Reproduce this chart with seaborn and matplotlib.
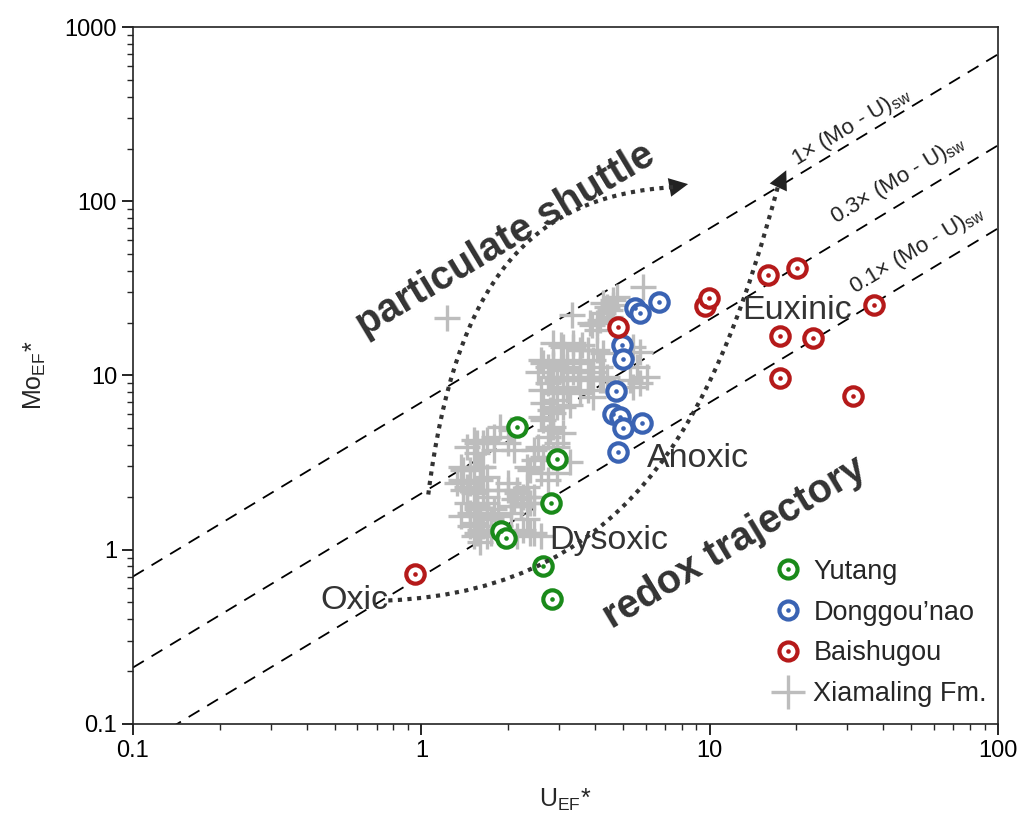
import matplotlib
matplotlib.use("Agg")
import matplotlib.pyplot as plt
from matplotlib.lines import Line2D
from matplotlib.path import Path
from matplotlib.patches import PathPatch
import numpy as np
import seaborn as sns

# Yutang
yutang_u = [2.15, 2.96, 2.82, 1.89, 1.96, 2.65, 2.85]
yutang_mo = [5.08, 3.33, 1.84, 1.28, 1.17, 0.80, 0.52]
# Donggou'nao
dong_u = [5.52, 5.75, 6.69, 4.98, 5.02, 4.75, 4.63, 4.90, 5.02, 5.84, 4.79]
dong_mo = [24.5, 22.9, 26.5, 15.0, 12.5, 8.17, 6.03, 5.80, 5.01, 5.35, 3.65]
# Baishugou
bai_u = [0.95, 4.82, 9.66, 9.97, 15.9, 20.1, 17.5, 22.9, 17.5, 37.0, 31.5]
bai_mo = [0.72, 19.0, 25.2, 27.9, 37.8, 41.5, 16.9, 16.5, 9.7, 25.4, 7.65]
# Xiamaling Fm.
xia_u = [5.89, 4.78, 4.63, 4.28, 4.52, 3.34, 1.23, 4.08, 3.92, 3.04, 3.37, 3.62,
         3.77, 5.44, 5.75, 2.65, 2.87, 3.21, 3.56, 3.95, 4.18, 2.53, 2.80, 3.11,
         3.48, 3.86, 4.28, 6.08, 5.75, 5.44, 2.59, 2.87, 3.21, 3.56, 3.95, 2.65,
         2.96, 3.29, 1.88, 2.04, 2.65, 2.87, 3.11, 2.74, 2.96, 1.44, 1.56, 1.69,
         1.78, 2.09, 1.99, 2.45, 2.65, 2.87, 3.29, 1.37, 1.48, 1.60, 1.69, 2.39,
         2.59, 2.74, 1.33, 1.44, 1.56, 1.69, 1.84, 1.99, 2.15, 2.33, 2.45, 1.44,
         1.56, 1.69, 1.84, 2.04, 2.21, 1.48, 1.60, 1.74, 2.15, 2.39, 2.59, 1.37,
         1.52, 1.88, 2.33,
         4.63, 4.42, 4.28, 4.18, 4.52, 3.86, 4.08, 2.87, 3.11, 3.37, 3.56, 4.08,
         4.28, 2.59, 2.74, 2.87, 3.04, 3.21, 3.37, 3.56, 3.77, 3.95, 4.18, 4.42,
         2.74, 2.96, 3.21, 3.77, 5.61, 5.31, 2.87, 3.11, 2.80, 2.59, 2.87, 2.80,
         2.53, 2.96, 1.52, 1.64, 1.78, 1.56, 1.40, 1.52, 1.64, 2.45, 2.33, 2.96,
         1.37, 1.48, 1.60, 1.40, 1.52, 1.64, 1.99, 2.15, 2.33, 2.09, 2.26, 2.45,
         2.04, 2.21, 2.39, 1.56, 1.69, 1.78, 1.48, 1.60, 1.74, 1.52, 1.64, 1.56,
         1.69, 1.60, 2.26, 2.45]
xia_mo = [32.3, 28.3, 25.4, 26.1, 23.8, 22.3, 21.4, 20.1, 19.5, 15.0, 14.6, 15.0,
          14.0, 14.6, 13.7, 11.8, 11.5, 12.3, 11.8, 12.3, 11.2, 10.4, 9.83, 9.83,
          9.45, 9.83, 9.45, 9.83, 9.08, 8.61, 8.28, 7.96, 8.28, 7.96, 7.55, 6.97,
          6.61, 6.79, 5.08, 4.88, 5.57, 5.08, 4.69, 4.45, 4.11, 3.90, 4.11, 4.28,
          3.75, 3.75, 4.11, 3.75, 3.42, 3.42, 3.20, 2.99, 2.88, 2.99, 2.62, 2.88,
          2.77, 2.52, 2.42, 2.30, 2.21, 2.01, 2.21, 2.21, 2.12, 2.01, 1.86, 1.86,
          1.70, 1.63, 1.55, 1.63, 1.77, 1.36, 1.30, 1.25, 1.19, 1.25, 1.19, 1.55,
          1.19, 1.36, 1.49,
          27.2, 24.8, 22.9, 20.9, 21.7, 20.1, 18.3, 15.4, 14.6, 15.4, 14.0, 14.0,
          13.5, 12.3, 11.2, 11.8, 10.8, 11.2, 10.4, 10.8, 9.83, 10.4, 9.45, 9.83,
          9.08, 9.45, 8.61, 8.28, 11.2, 9.45, 7.25, 6.61, 6.36, 5.80, 6.11, 4.88,
          3.90, 3.90, 4.28, 4.11, 4.45, 3.60, 2.88, 2.99, 2.99, 3.28, 2.99, 2.77,
          2.52, 2.42, 2.52, 2.21, 2.12, 2.21, 2.42, 2.21, 2.30, 1.94, 2.01, 2.01,
          1.77, 1.77, 1.86, 1.77, 1.86, 1.70, 1.63, 1.55, 1.49, 1.43, 1.36, 1.25,
          1.19, 1.10, 1.30, 1.25]

sw_ratio = 7.0
line_factors = [1, 0.3, 0.1]
line_labels = ["1×", "0.3×", "0.1×"]

green = "#1a8a1a"
blue = "#3a63b3"
red = "#b51a1a"
gray = "#bdbdbd"
txt = "#333333"

sns.set_style("ticks")
plt.rcParams["font.family"] = ["Liberation Sans", "DejaVu Sans"]
plt.rcParams["mathtext.fontset"] = "custom"
plt.rcParams["mathtext.rm"] = "Liberation Sans"

fig = plt.figure(figsize=(10.23, 8.27), dpi=100)
ax = fig.add_axes([0.130, 0.125, 0.8456, 0.842])
ax.set_xscale("log")
ax.set_yscale("log")
ax.set_xlim(0.1, 100)
ax.set_ylim(0.1, 1000)

# reference lines
xl = np.array([0.1, 100])
for f in line_factors:
    ax.plot(xl, f * sw_ratio * xl, color="black", lw=1.3, dashes=(7, 5), zorder=1)

sns.scatterplot(x=xia_u, y=xia_mo, ax=ax, marker="+", s=330, color=gray,
                linewidth=2.4, zorder=2)
for xs, ys, c in [(yutang_u, yutang_mo, green), (dong_u, dong_mo, blue),
                  (bai_u, bai_mo, red)]:
    sns.scatterplot(x=xs, y=ys, ax=ax, marker="o", s=175, color="white",
                    edgecolor=c, linewidth=3.0, zorder=3)
    sns.scatterplot(x=xs, y=ys, ax=ax, marker="o", s=11, color=c,
                    linewidth=0, zorder=4)

# line labels
lab_pos = [(31.0, 267), (45.1, 132.7), (52.5, 52.6)]
for (lx, ly), lab in zip(lab_pos, line_labels):
    ax.text(lx, ly, lab + r" (Mo - U)$_{\mathregular{sw}}$", fontsize=16,
            rotation=31, ha="center", va="center", color="#222222")

# dotted trajectories
shuttle = Path([(1.057, 2.07), (1.312, 35.4), (2.388, 108.8), (7.60, 120.9)],
               [Path.MOVETO, Path.CURVE4, Path.CURVE4, Path.CURVE4])
redox = Path([(0.768, 0.510), (5.75, 0.589), (10.9, 7.25), (17.3, 124.2)],
             [Path.MOVETO, Path.CURVE4, Path.CURVE4, Path.CURVE4])
for p in [shuttle, redox]:
    ax.add_patch(PathPatch(p, fill=False, lw=3, ls=(0, (1, 1.3)),
                           ec="#333333", transform=ax.transData, zorder=5))
ax.annotate("", xy=(8.6, 126.5), xytext=(7.3, 120.5),
            arrowprops=dict(arrowstyle="-|>", mutation_scale=34, color="#222222", lw=0))
ax.annotate("", xy=(18.6, 156), xytext=(17.2, 118),
            arrowprops=dict(arrowstyle="-|>", mutation_scale=34, color="#222222", lw=0))

ax.text(1.956, 60.0, "particulate shuttle", fontsize=28.5, fontweight="bold",
        rotation=31, ha="center", va="center", color=txt)
ax.text(12.2, 1.097, "redox trajectory", fontsize=28.5, fontweight="bold",
        rotation=31, ha="center", va="center", color=txt)
for (tx, ty), lab in zip([(20.1, 23.5), (9.14, 3.33), (4.45, 1.126), (0.586, 0.510)],
                         ["Euxinic", "Anoxic", "Dysoxic", "Oxic"]):
    ax.text(tx, ty, lab, fontsize=24.5, ha="center", va="center", color=txt)

ax.set_xticks([0.1, 1, 10, 100])
ax.set_xticklabels(["0.1", "1", "10", "100"])
ax.set_yticks([0.1, 1, 10, 100, 1000])
ax.set_yticklabels(["0.1", "1", "10", "100", "1000"])
ax.tick_params(which="major", direction="out", length=8, width=1.2, labelsize=17,
               colors="black")
ax.tick_params(which="minor", direction="out", length=4, width=1.0)
for s in ax.spines.values():
    s.set_linewidth(1.2)
    s.set_color("#222222")
ax.set_xlabel(r"U$_{\mathregular{EF}}$*", fontsize=18, labelpad=18)
ax.set_ylabel(r"Mo$_{\mathregular{EF}}$*", fontsize=18, labelpad=12)

handles = []
for c in [green, blue, red]:
    h1 = Line2D([], [], marker="o", ls="none", ms=13, mfc="white", mec=c, mew=3.0)
    h2 = Line2D([], [], marker="o", ls="none", ms=3.3, mfc=c, mec=c, mew=0)
    handles.append((h1, h2))
handles.append(Line2D([], [], marker="+", ls="none", ms=24, mew=2.4, color=gray))
ax.legend(handles, ["Yutang", "Donggou’nao", "Baishugou", "Xiamaling Fm."],
          loc="lower right", bbox_to_anchor=(1.006, 0.0), frameon=False,
          fontsize=19.5, handlelength=1.0, handletextpad=0.45, labelspacing=0.55,
          borderaxespad=0.2)

fig.savefig("out.png", dpi=100)
